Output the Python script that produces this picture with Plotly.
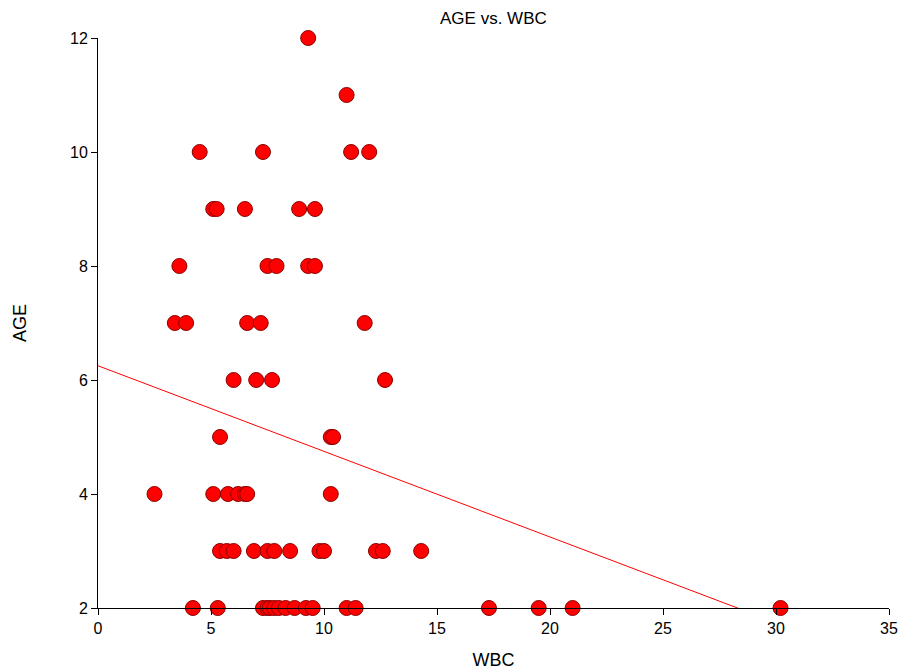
import plotly.graph_objects as go

# Data (WBC, AGE)
wbc_age2 = [4.2, 5.3, 7.3, 7.5, 7.6, 7.8, 8.0, 8.3, 8.7, 9.2, 9.5, 11.0, 11.4, 17.3, 19.5, 21.0, 30.2]
wbc_age3 = [5.4, 5.7, 6.0, 6.9, 7.5, 7.8, 8.5, 9.8, 10.0, 12.3, 12.6, 14.3]
wbc_age4 = [2.5, 5.1, 5.75, 6.2, 6.5, 6.6, 10.3]
wbc_age5 = [5.4, 10.3, 10.4]
wbc_age6 = [6.0, 7.0, 7.7, 12.7]
wbc_age7 = [3.4, 3.9, 6.6, 7.2, 11.8]
wbc_age8 = [3.6, 7.5, 7.9, 9.3, 9.6]
wbc_age9 = [5.1, 5.25, 6.5, 8.9, 9.6]
wbc_age10 = [4.5, 7.3, 11.2, 12.0]
wbc_age11 = [11.0]
wbc_age12 = [9.3]

groups = {2: wbc_age2, 3: wbc_age3, 4: wbc_age4, 5: wbc_age5, 6: wbc_age6,
          7: wbc_age7, 8: wbc_age8, 9: wbc_age9, 10: wbc_age10, 11: wbc_age11, 12: wbc_age12}

wbc = []
age = []
for a, xs in groups.items():
    for x in xs:
        wbc.append(x)
        age.append(a)

# Regression line coefficients
intercept = 6.25
slope = -0.1502
line_x = [0, 35]
line_y = [intercept + slope * v for v in line_x]

fig = go.Figure()
fig.add_trace(go.Scatter(
    x=line_x, y=line_y, mode="lines",
    line=dict(color="#ff0000", width=1),
    showlegend=False, hoverinfo="skip"))
fig.add_trace(go.Scatter(
    x=wbc, y=age, mode="markers",
    marker=dict(color="#ff0000", size=15, line=dict(color="#8b0000", width=1)),
    cliponaxis=False, showlegend=False))

font_family = "Liberation Sans, Arial, sans-serif"
fig.update_layout(
    width=902, height=670,
    margin=dict(l=98, r=13, t=38, b=62, autoexpand=False),
    paper_bgcolor="white", plot_bgcolor="white",
    title=dict(text="AGE vs. WBC", x=0.547, xanchor="center", y=0.973, yanchor="middle",
               font=dict(family=font_family, size=17, color="black")),
    font=dict(family=font_family, color="black", size=16),
    xaxis=dict(range=[0, 35], tickvals=[0, 5, 10, 15, 20, 25, 30, 35], automargin=False,
               showgrid=False, zeroline=False, showline=True, linecolor="black", linewidth=1,
               ticks="outside", ticklen=6, tickcolor="black",
               title=dict(text="WBC", standoff=20, font=dict(size=18))),
    yaxis=dict(range=[2, 12], tickvals=[2, 4, 6, 8, 10, 12], automargin=False,
               showgrid=False, zeroline=False, showline=True, linecolor="black", linewidth=1,
               ticks="outside", ticklen=6, tickcolor="black",
               title=dict(text="AGE", standoff=38, font=dict(size=18))),
)

fig.write_html("out.html")
